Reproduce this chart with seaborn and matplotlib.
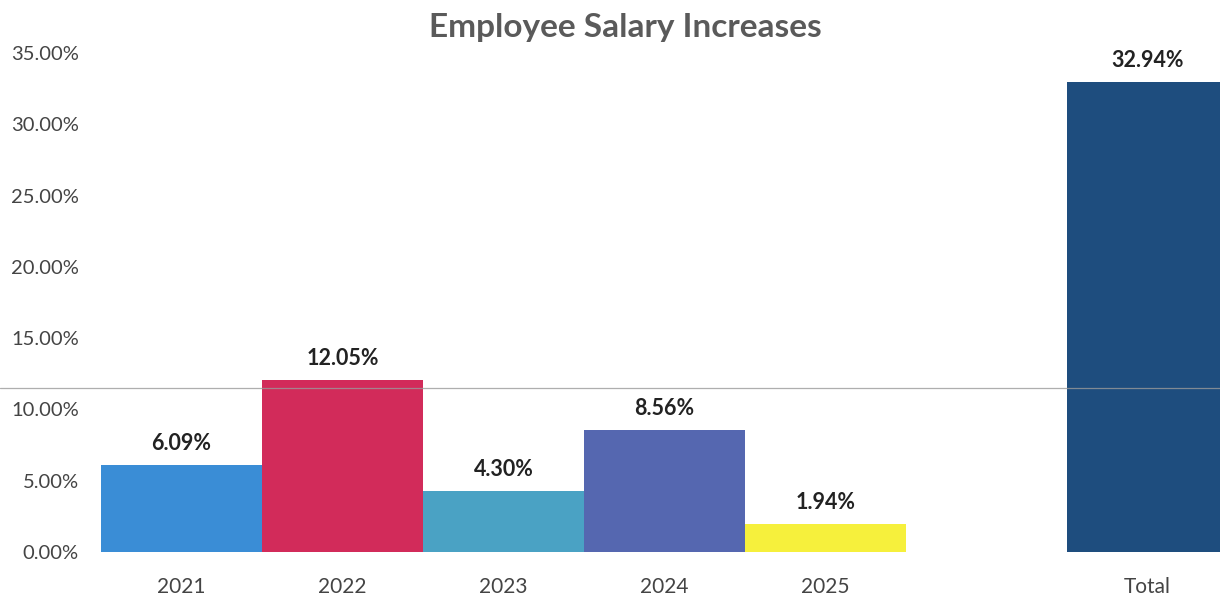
import matplotlib
matplotlib.use("Agg")
import matplotlib.pyplot as plt
import matplotlib.transforms as mtransforms
from matplotlib.lines import Line2D
from matplotlib.ticker import FuncFormatter, MultipleLocator
import seaborn as sns
import pandas as pd

years = ["2021", "2022", "2023", "2024", "2025", "Total"]
increases = [6.09, 12.05, 4.30, 8.56, 1.94, 32.94]
bar_colors = ["#3a8dd6", "#d22b5a", "#4aa2c4", "#5567b0", "#f6f03c", "#1e4d7e"]
slot_order = ["2021", "2022", "2023", "2024", "2025", " ", "Total"]

df = pd.DataFrame({"year": years, "increase": increases})

sns.set_theme(style="white")
plt.rcParams["font.family"] = ["Lato", "DejaVu Sans"]

fig = plt.figure(figsize=(12.2, 6.05), dpi=100)
ax = fig.add_axes([101 / 1220, 1 - 552 / 605, 1 - 101 / 1220, (552 - 53) / 605])

sns.barplot(
    data=df, x="year", y="increase", hue="year", order=slot_order,
    palette=dict(zip(years, bar_colors)), width=1.0, legend=False,
    saturation=1.0, linewidth=0, edgecolor="none", ax=ax,
)

for cont in ax.containers:
    ax.bar_label(cont, fmt=lambda v: f"{v:.2f}%", padding=8,
                 fontsize=15.5, fontweight="bold", color="#222222")

ax.set_ylim(0, 35)
ax.set_xlim(-0.5, 6.45)
ax.yaxis.set_major_locator(MultipleLocator(5))
ax.yaxis.set_major_formatter(FuncFormatter(lambda v, _: f"{v:.2f}%"))
ax.tick_params(axis="y", length=0, pad=16, labelsize=14.5, labelcolor="#444444")
ax.tick_params(axis="x", length=0, pad=18, labelsize=15, labelcolor="#444444")
ax.set_xlabel("")
ax.set_ylabel("")
for s in ax.spines.values():
    s.set_visible(False)

# faint fold line across the page
trans = mtransforms.blended_transform_factory(fig.transFigure, ax.transData)
fig.add_artist(Line2D([0, 1], [11.5, 11.5], transform=trans,
                      color="#9a9a9a", lw=0.9, alpha=0.8))

fig.text(0.513, 1 - 28 / 605, "Employee Salary Increases", ha="center",
         va="center", fontsize=24, fontweight="bold", color="#5a5a5a")

fig.savefig("out.png", dpi=100, facecolor="white")
